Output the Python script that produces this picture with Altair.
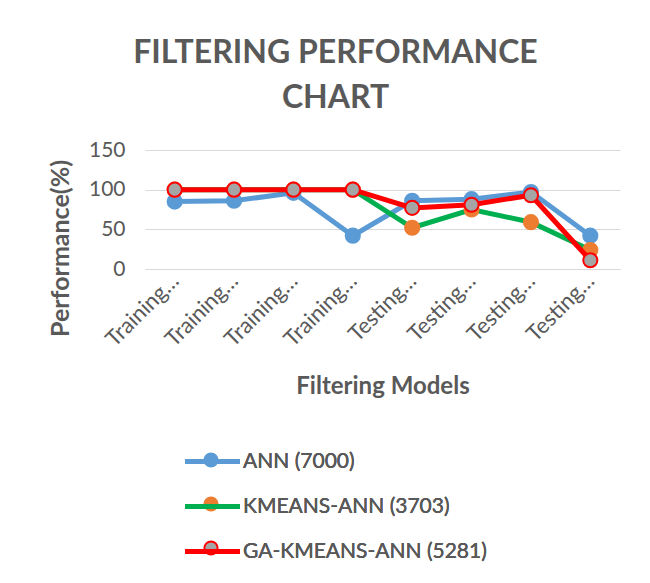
import altair as alt
import pandas as pd

categories = ["Training Set 1", "Training Set 2", "Training Set 3", "Training Set 4",
              "Testing Set 1", "Testing Set 2", "Testing Set 3", "Testing Set 4"]
series_names = ["ANN (7000)", "KMEANS-ANN (3703)", "GA-KMEANS-ANN (5281)"]
ann = [85, 86, 96, 42, 86, 88, 97, 42]
kmeans_ann = [100, 100, 100, 100, 52, 75, 59, 24]
ga_kmeans_ann = [100, 100, 100, 100, 77, 81, 93, 11]

line_colors = ["#5B9BD5", "#00B050", "#FF0000"]
fill_colors = ["#5B9BD5", "#ED7D31", "#A5A5A5"]
stroke_colors = ["#5B9BD5", "#ED7D31", "#FF0000"]

rows = []
for name, vals in zip(series_names, [ann, kmeans_ann, ga_kmeans_ann]):
    for c, v in zip(categories, vals):
        rows.append({"Model": c, "Series": name, "Value": v})
df = pd.DataFrame(rows)

FONT = "Lato"
GRAY = "#595959"

x_enc = alt.X("Model:N", sort=categories, title="Filtering Models",
              scale=alt.Scale(paddingInner=0, paddingOuter=0.5),
              axis=alt.Axis(labelAngle=-45, labelAlign="right", labelBaseline="middle",
                            labelExpr="split(datum.label, ' ')[0] + '…'",
                            labelFontSize=22, labelColor=GRAY, labelFont=FONT,
                            labelPadding=8, ticks=False, domainColor="#D9D9D9",
                            titleFontSize=24, titleFontWeight="bold", titleColor=GRAY,
                            titleFont=FONT, titlePadding=24, grid=False))
y_enc = alt.Y("Value:Q", title="Performance(%)",
              scale=alt.Scale(domain=[0, 150], nice=False),
              axis=alt.Axis(values=[0, 50, 100, 150], labelFontSize=21, labelColor=GRAY,
                            labelFont=FONT, labelPadding=20, ticks=False, domain=False,
                            gridColor="#D9D9D9", titleFontSize=25, titleFontWeight="bold",
                            titleColor=GRAY, titleFont=FONT, titleX=-72, titleY=98,
                            titleAngle=-90))

LINE_SYM = "M-1.25,0L1.25,0"
CIRC_SYM = "M0.3,0A0.3,0.3 0 1,1 -0.3,0A0.3,0.3 0 1,1 0.3,0Z"
SYM_SIZE = 1936

color_scale = alt.Scale(domain=series_names, range=line_colors)
fill_scale = alt.Scale(domain=series_names, range=fill_colors)
stroke_scale = alt.Scale(domain=series_names, range=stroke_colors)

legend_common = dict(orient="none", legendX=43, legendY=287, title=None,
                     symbolSize=SYM_SIZE, labelColor=GRAY, labelFont=FONT,
                     labelOffset=6, labelLimit=400, padding=0)

line_legend = alt.Legend(symbolType=LINE_SYM, symbolStrokeWidth=5, labelFontSize=21,
                         rowPadding=10, **legend_common)
circ_legend = dict(symbolType=CIRC_SYM, symbolStrokeWidth=2, labelFontSize=21,
                   labelExpr="''", rowPadding=10, **legend_common)

base = alt.Chart(df)
layers = []
for name in series_names:
    ln = base.transform_filter(alt.datum.Series == name).mark_line(strokeWidth=5).encode(
        x=x_enc, y=y_enc,
        color=alt.Color("Series:N", scale=color_scale, legend=line_legend))
    pt = base.transform_filter(alt.datum.Series == name).mark_point(
        filled=True, size=200, strokeWidth=2, opacity=1).encode(
        x=x_enc, y=y_enc,
        fill=alt.Fill("Series:N", scale=fill_scale, legend=alt.Legend(**circ_legend)),
        stroke=alt.Stroke("Series:N", scale=stroke_scale, legend=alt.Legend(**circ_legend)))
    layers += [ln, pt]

chart = alt.layer(*layers).resolve_scale(color="independent").properties(
    width=475, height=119,
    autosize=alt.AutoSizeParams(type="none"),
    padding={"left": 137, "top": 142, "right": 22, "bottom": 306},
    title=alt.Title(["FILTERING PERFORMANCE", "CHART"], fontSize=32, font=FONT,
                    fontWeight="bold", color=GRAY, anchor="middle", dx=-47, offset=24,
                    lineHeight=45),
).configure(background="white").configure_view(stroke=None)

chart.save("out.html", embed_options={"renderer": "svg", "actions": False})
